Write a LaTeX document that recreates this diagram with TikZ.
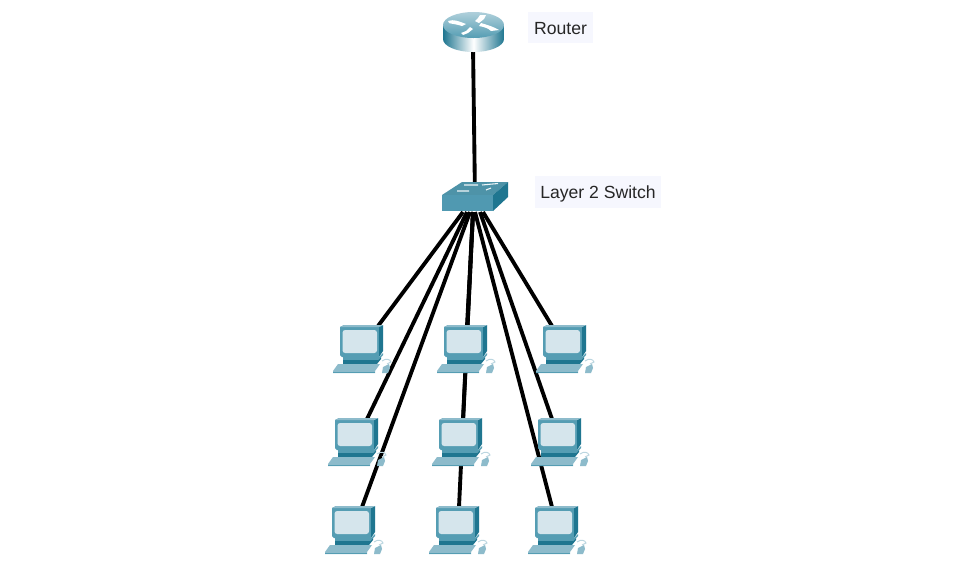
\documentclass[tikz,border=0pt]{standalone}
\usepackage{fontspec}
\setmainfont{Liberation Sans}
\definecolor{tealD}{HTML}{1F7690}
\definecolor{tealM}{HTML}{559DB3}
\definecolor{tealL}{HTML}{8DBBCB}
\definecolor{swtop}{HTML}{4E93A8}
\definecolor{swfront}{HTML}{5099B1}
\definecolor{screen}{HTML}{D5E5EC}
\definecolor{lab}{HTML}{F6F7FE}
\tikzset{
  cable/.style={line width=2.9pt,black},
  lbl/.style={fill=lab,text=black!85,font=\fontsize{13.2}{15}\selectfont,inner sep=0pt,text height=9.8pt,text depth=0pt},
  anchorpt/.style={inner sep=0pt,minimum size=0pt},
  pc/.pic={
    % monitor
    \fill[tealM] (0,2)--(4,0)--(39,0)--(39,32)--(2,32)--(0,30)--cycle;
    \fill[tealD] (39,2)--(43,0)--(43,26)--(39,32)--cycle;
    \fill[tealL] (0,2)--(4,0)--(43,0)--(39,2)--cycle;
    \fill[screen,rounded corners=2pt] (2.5,5)--(37,5)--(37,28)--(2.5,28)--cycle;
    % stand
    \fill[tealM] (3,32)--(39,32)--(43,28)--(43,30)--(38,35)--(3,35)--cycle;
    \fill[tealD] (3,35)--(38,35)--(41,32)--(41,34)--(37,39)--(3,39)--cycle;
    % keyboard
    \fill[tealL] (-2,39)--(40,39)--(35,46)--(35,48)--(-7,48)--(-7,46)--cycle;
    \fill[tealM] (-7,46.8)--(35,46.8)--(35,48)--(-7,48)--cycle;
    % mouse
    \fill[tealL] (43,42)--(49,39)--(50,43)--(48,48)--(42,48)--cycle;
    \draw[tealL!60!white,line width=.7pt] (42,36) .. controls (46,33) and (50,34) .. (51,37) -- (47,39);
  }
}
\begin{document}
\begin{tikzpicture}[x=0.75pt,y=-0.75pt]
\useasboundingbox (0,0) rectangle (955,583);
\fill[white] (0,0) rectangle (955,583);
\node[anchorpt] (rt) at (473,46) {};
\node[anchorpt] (sw) at (475,197) {};
\coordinate (pa1) at (463,212);
\coordinate (pa2) at (467,212);
\coordinate (pa3) at (470,212);
\coordinate (pb1) at (473,212);
\coordinate (pb2) at (473,212);
\coordinate (pb3) at (473,212);
\coordinate (pc1) at (483,212);
\coordinate (pc2) at (480,212);
\coordinate (pc3) at (475,212);
\node[anchorpt] (a1) at (378,326) {};
\node[anchorpt] (a2) at (367,419) {};
\node[anchorpt] (a3) at (362,507) {};
\node[anchorpt] (b1) at (467,326) {};
\node[anchorpt] (b2) at (463,419) {};
\node[anchorpt] (b3) at (459,507) {};
\node[anchorpt] (c1) at (552,326) {};
\node[anchorpt] (c2) at (552,419) {};
\node[anchorpt] (c3) at (552,507) {};
\draw[cable] (rt)--(sw);
\foreach \n in {a1,a2,a3,b1,b2,b3,c1,c2,c3}
  \draw[cable] (p\n)--(\n);
% router
\shade[left color=tealD,right color=tealD,middle color=white]
  (443,25)--(443,39) arc[start angle=180,end angle=0,x radius=30.5,y radius=13]--(504,25)--cycle;
\shade[top color=tealL!70!white,bottom color=tealM] (473.5,25) ellipse[x radius=30.5,y radius=13];
\fill[white] (448,21) .. controls (454,19) and (458,21) .. (466,24) -- (462,26) .. controls (456,24) and (452,24) .. (449,23) -- cycle;
\fill[white] (486,15) -- (480,15) -- (478,18) -- (475,21) -- (479,23) -- (484,19) -- cycle;
\fill[white] (481,23) .. controls (488,25) and (494,27) .. (499,30) -- (491,31) .. controls (488,28) and (484,27) .. (479,26) -- cycle;
\fill[white] (470,27) -- (473,29) -- (468,33) -- (463,35) -- (461,33) -- (466,31) -- cycle;
% switch
\fill[swtop] (442,195)--(462,182)--(508,182)--(493,195)--cycle;
\fill[tealD] (493,195)--(508,182)--(508,197)--(493,211)--cycle;
\fill[swfront] (442,195)--(493,195)--(493,211)--(442,211)--cycle;
\draw[white!85!tealL,line width=.8pt] (464,185)--(478,185) (482,185)--(498,183.5) (457,191)--(469,191) (486,190)--(491,188);
% pcs
\foreach \x/\y in {340/325,444/325,543/325,335/418,439/418,538/418,332/506,436/506,535/506}
  \pic at (\x,\y) {pc};
% labels
\node[lbl,minimum width=48.75pt,minimum height=23.25pt] (rl) at (560.5,27.5) {Router};
\node[lbl,minimum width=94.5pt,minimum height=24pt] (sl) at (598,192) {Layer 2 Switch};
\end{tikzpicture}
\end{document}
